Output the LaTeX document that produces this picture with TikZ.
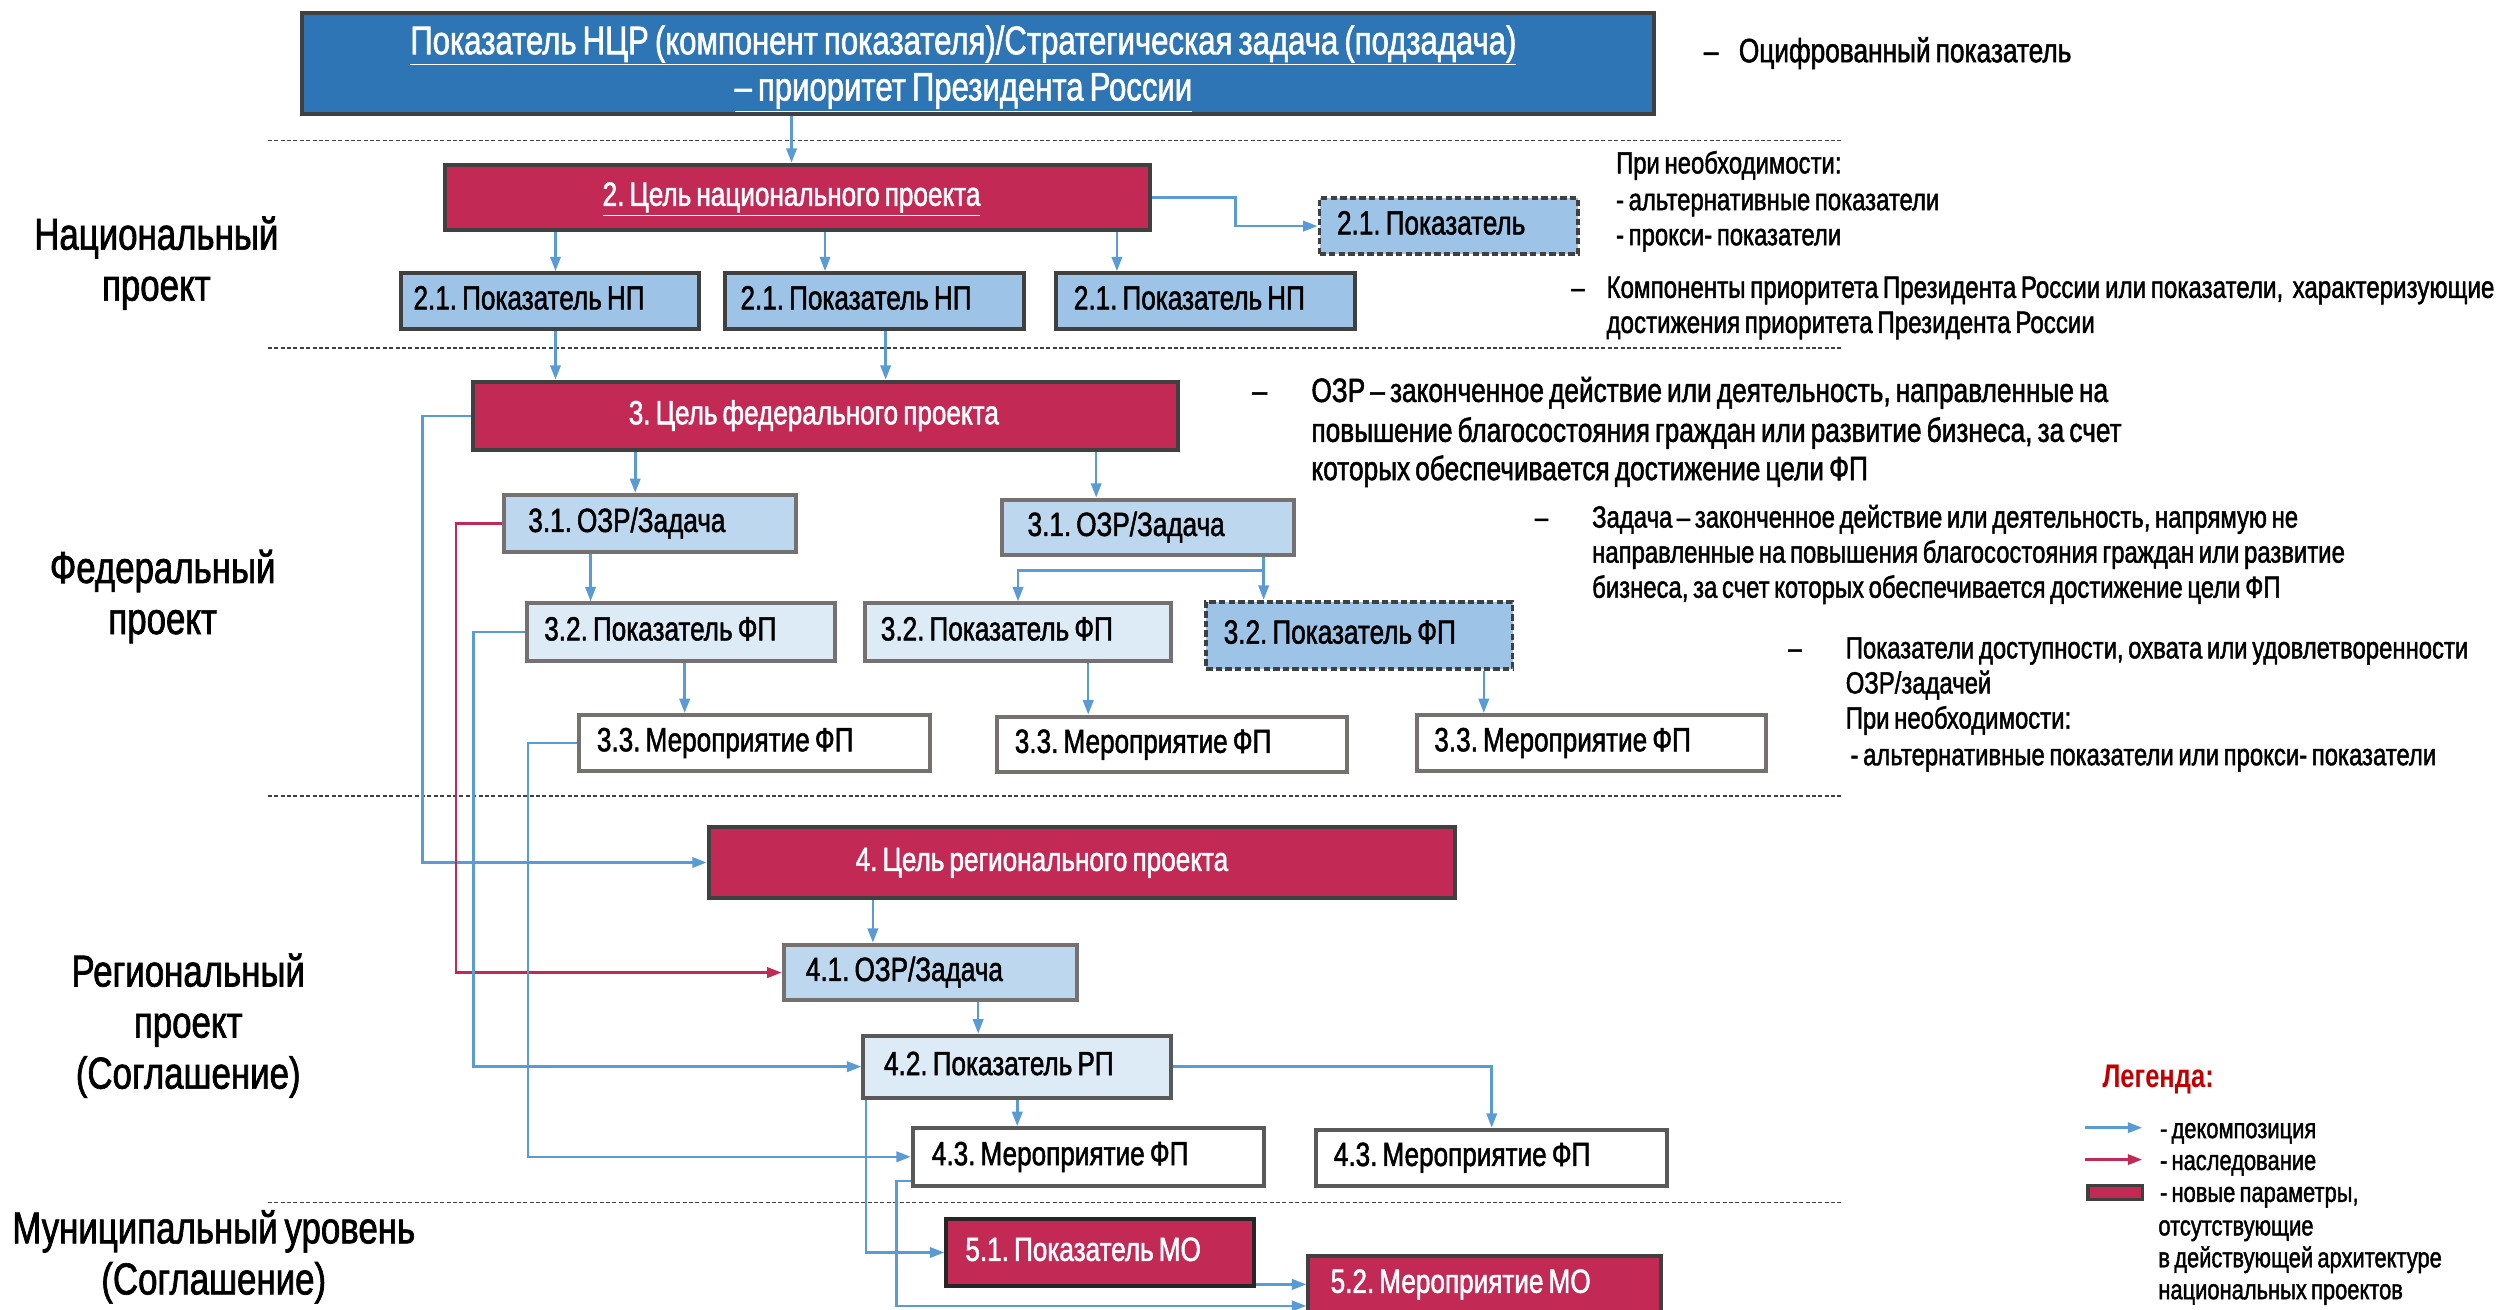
\documentclass[tikz,border=0pt]{standalone}
\usepackage{fontspec}
\setmainfont{Liberation Sans}[FakeStretch=0.78, FakeBold=1.5, WordSpace=0.7]
\newfontfamily\titlefont{Liberation Sans Bold}[FakeStretch=0.78, WordSpace=0.7]
\usetikzlibrary{arrows.meta,calc}
\definecolor{topblue}{HTML}{2E75B6}
\definecolor{crim}{HTML}{C32955}
\definecolor{lbA}{HTML}{9DC3E6}
\definecolor{lbB}{HTML}{BDD7EE}
\definecolor{lbC}{HTML}{DDEBF7}
\definecolor{arrblue}{HTML}{5B9BD5}
\definecolor{darkline}{HTML}{404040}
\definecolor{vdkline}{HTML}{262626}
\definecolor{grayline}{HTML}{767171}
\definecolor{midline}{HTML}{595959}
\definecolor{legred}{HTML}{C00000}
\newcommand\mkbox[8]{%
  \pgfmathsetmacro\mytw{#5-2*#7}%
  \node[#1, anchor=north west, minimum height=#6pt, inner xsep=#7pt, text width=\mytw pt] (#2) at (#3,#4) {#8};}
\newcommand\fsz[1]{\fontsize{#1}{#1}\selectfont\frenchspacing}
\begin{document}
\begin{tikzpicture}[x=1pt,y=-1pt,
  box/.style={rectangle, inner ysep=0pt, line width=2.5pt, font=\fsz{21}, text height=15pt, text depth=4.5pt, align=flush left},
  ctr/.style={align=flush center},
  dk/.style={draw=darkline},
  vdk/.style={draw=vdkline},
  gr/.style={draw=grayline},
  md/.style={draw=midline},
  dsh/.style={draw=darkline, dash pattern=on 4pt off 2pt},
  crbox/.style={fill=crim, text=white},
  lbAf/.style={fill=lbA},
  lbBf/.style={fill=lbB},
  lbCf/.style={fill=lbC},
  whf/.style={fill=white},
  dec/.style={draw=arrblue, line width=1.6pt, -{Triangle[length=9pt,width=6.5pt]}},
  inh/.style={draw=crim, line width=1.6pt, -{Triangle[length=9pt,width=6.5pt]}},
  sepline/.style={draw=darkline, line width=1pt, dash pattern=on 2.5pt off 1.5pt},
  ttl/.style={inner sep=0pt, text=white, font=\fsz{25}, text height=17.5pt, text depth=5.5pt},
  ann/.style={anchor=west, inner sep=0pt, font=\fsz{19.2}, text height=13.5pt, text depth=4pt},
  annL/.style={ann, font=\fsz{21.1}, text height=14.5pt, text depth=4.5pt},
  leg/.style={anchor=west, inner sep=0pt, font=\fsz{17.6}, text height=12.5pt, text depth=3.5pt},
  lab/.style={align=center, inner sep=0pt, font=\fontsize{28}{32}\selectfont}
]
\useasboundingbox (0,0) rectangle (1568,821);
\fill[white] (0,0) rectangle (1568,821);

% separators
\draw[sepline] (168,88) -- (1155,88);
\draw[sepline] (168,218) -- (1155,218);
\draw[sepline] (168,499) -- (1155,499);
\draw[sepline] (168,754) -- (1155,754);

% boxes
\mkbox{box,dk,fill=topblue}{top}{188}{7}{848}{63}{0}{}
\node[ttl] (tt1) at (604,28) {\underline{Показатель НЦР (компонент показателя)/Стратегическая задача (подзадача)}};
\node[ttl] (tt2) at (604,57) {\underline{– приоритет Президента России}};

\mkbox{box,crbox,dk,ctr}{cnp}{278}{102}{442}{41}{0}{\hspace*{-8pt}\underline{2. Цель национального проекта}}
\mkbox{box,lbAf,dsh}{pk}{826}{123}{162}{35}{11}{2.1. Показатель}
\mkbox{box,lbAf,dk}{np1}{250}{170}{187}{35}{8}{2.1. Показатель НП}
\mkbox{box,lbAf,dk}{np2}{453}{170}{188}{35}{10}{2.1. Показатель НП}
\mkbox{box,lbAf,dk}{np3}{661}{170}{187}{35}{11}{2.1. Показатель НП}
\mkbox{box,crbox,dk,ctr}{cfp}{295}{238}{442}{43}{0}{\hspace*{-14pt}3. Цель федерального проекта}
\mkbox{box,lbBf,gr}{z1}{315}{309}{183}{36}{15}{3.1. ОЗР/Задача}
\mkbox{box,lbBf,gr}{z2}{627}{312}{183}{35}{16}{3.1. ОЗР/Задача}
\mkbox{box,lbCf,gr}{p1}{329}{377}{193}{36}{11}{3.2. Показатель ФП}
\mkbox{box,lbCf,gr}{p2}{541}{377}{192}{36}{10}{3.2. Показатель ФП}
\mkbox{box,lbAf,dsh}{p3}{755}{376}{192}{42}{11}{3.2. Показатель ФП}
\mkbox{box,whf,gr}{d1}{362}{447}{220}{35}{11}{3.3. Мероприятие ФП}
\mkbox{box,whf,gr}{d2}{624}{448}{219}{35}{11}{3.3. Мероприятие ФП}
\mkbox{box,whf,gr}{d3}{887}{447}{219}{35}{11}{3.3. Мероприятие ФП}
\mkbox{box,crbox,dk,ctr}{crp}{443}{517}{468}{45}{0}{\hspace*{-50pt}4. Цель регионального проекта}
\mkbox{box,lbBf,gr}{zr}{490}{591}{184}{35}{14}{4.1. ОЗР/Задача}
\mkbox{box,lbCf,md}{rp}{540}{648}{193}{39}{13}{4.2. Показатель РП}
\mkbox{box,whf,md}{m1}{571}{706}{220}{36}{12}{4.3. Мероприятие ФП}
\mkbox{box,whf,md}{m2}{824}{707}{220}{35}{11}{4.3. Мероприятие ФП}
\mkbox{box,crbox,vdk}{mo1}{592}{763}{193}{42}{12}{5.1. Показатель МО}
\mkbox{box,crbox,dk}{mo2}{819}{786}{221}{36}{14}{5.2. Мероприятие МО}

% connectors
\coordinate (a1) at ([xshift=-4pt]cnp.north);
\draw[dec] (top.south -| a1) -- (a1);
\draw[dec] (cnp.east) -- ++(52,0) |- (pk.west);
\coordinate (a2) at ([xshift=3.5pt]np1.north);
\draw[dec] (cnp.south -| a2) -- (a2);
\coordinate (a3) at ([xshift=-31pt]np2.north);
\draw[dec] (cnp.south -| a3) -- (a3);
\coordinate (a4) at ([xshift=-55.5pt]np3.north);
\draw[dec] (cnp.south -| a4) -- (a4);
\coordinate (b1) at ([xshift=3.5pt]np1.south);
\draw[dec] (b1) -- (b1 |- cfp.north);
\coordinate (b2) at ([xshift=7pt]np2.south);
\draw[dec] (b2) -- (b2 |- cfp.north);
\draw[dec] (cfp.west) -- ++(-30,0) |- (crp.west);
\coordinate (c1) at ([xshift=-9.5pt]z1.north);
\draw[dec] (cfp.south -| c1) -- (c1);
\coordinate (c2) at ([xshift=-32.5pt]z2.north);
\draw[dec] (cfp.south -| c2) -- (c2);
\draw[inh] (z1.west) -- ++(-29,0) |- (zr.west);
\coordinate (c3) at ([xshift=-56.5pt]p1.north);
\draw[dec] (z1.south -| c3) -- (c3);
\coordinate (zs) at ([xshift=72.5pt]z2.south);
\draw[dec] (zs) -- (zs |- p3.north);
\draw[dec] (zs) -- ++(0,8) -| (p2.north);
\coordinate (e1) at ([xshift=2.5pt]p1.south);
\draw[dec] (e1) -- (e1 |- d1.north);
\coordinate (e2) at ([xshift=44pt]p2.south);
\draw[dec] (e2) -- (e2 |- d2.north);
\coordinate (e3) at ([xshift=78pt]p3.south);
\draw[dec] (e3) -- (e3 |- d3.north);
\draw[dec] (p1.west) -- ++(-32,0) |- (rp.west);
\draw[dec] (d1.west) -- ++(-31,0) |- (m1.west);
\coordinate (f1) at ([xshift=-36pt]zr.north);
\draw[dec] (crp.south -| f1) -- (f1);
\coordinate (f2) at ([xshift=30pt]zr.south);
\draw[dec] (f2) -- (f2 |- rp.north);
\draw[dec] (rp.south) -- (rp.south |- m1.north);
\draw[dec] (rp.east) -| (m2.north);
\draw[dec] ([xshift=3pt]rp.south west) |- (mo1.west);
\draw[dec] ([yshift=4pt]m1.south west) -- ++(-9,0) |- ([yshift=-13.5pt]mo2.west);
\draw[dec] (mo1.east |- mo2.west) -- (mo2.west);

% annotations
\node[annL] (n1d) at (1068,34) {–};
\node[annL] (n1) at (1090,34) {Оцифрованный показатель};
\node[ann] (n2) at (1013,104) {При необходимости:};
\node[ann] (n3) at (1013,127) {- альтернативные показатели};
\node[ann] (n4) at (1013,149) {- прокси- показатели};
\node[ann] (n5d) at (985,182) {–};
\node[ann, font=\fsz{19.4}] (n5) at (1007,182) {Компоненты приоритета Президента России или показатели,\ \ характеризующие};
\node[ann, font=\fsz{19.4}] (n6) at (1007,204) {достижения приоритета Президента России};
\node[annL] (n7d) at (785,247) {–};
\node[annL] (n7) at (822,247) {ОЗР – законченное действие или деятельность, направленные на};
\node[annL] (n8) at (822,272) {повышение благосостояния граждан или развитие бизнеса, за счет};
\node[annL] (n9) at (822,296) {которых обеспечивается достижение цели ФП};
\node[ann] (n10d) at (962,326) {–};
\node[ann] (n10) at (998,326) {Задача – законченное действие или деятельность, напрямую не};
\node[ann] (n11) at (998,348) {направленные на повышения благосостояния граждан или развитие};
\node[ann] (n12) at (998,370) {бизнеса, за счет которых обеспечивается достижение цели ФП};
\node[ann] (n13d) at (1121,408) {–};
\node[ann] (n13) at (1157,408) {Показатели доступности, охвата или удовлетворенности};
\node[ann] (n14) at (1157,430) {ОЗР/задачей};
\node[ann] (n15) at (1157,452) {При необходимости:};
\node[ann] (n16) at (1160,475) {- альтернативные показатели или прокси- показатели};

% level labels
\node[lab] (L1) at (98,165) {Национальный\\проект};
\node[lab] (L2) at (102,374) {Федеральный\\проект};
\node[lab] (L3) at (118,643) {Региональный\\проект\\(Соглашение)};
\node[lab] (L4) at (134,788) {Муниципальный уровень\\(Соглашение)};

% legend
\node[ann, text=legred, font=\fontsize{20.5}{23}\titlefont] (lgt) at (1318,677) {Легенда:};
\coordinate (la1) at (1307,707); \coordinate (la2) at (1343,707);
\draw[dec] (la1) -- (la2);
\coordinate (lb1) at (1307,727); \coordinate (lb2) at (1343,727);
\draw[inh] (lb1) -- (lb2);
\node[draw=darkline, line width=2pt, fill=crim, minimum width=34pt, minimum height=9pt, inner sep=0pt, anchor=north west] (lgb) at (1308,742) {};
\node[leg] (lg1) at (1354,709) {- декомпозиция};
\node[leg] (lg2) at (1354,729) {- наследование};
\node[leg] (lg3) at (1354,749) {- новые параметры,};
\node[leg] (lg4) at (1353,770) {отсутствующие};
\node[leg] (lg5) at (1353,790) {в действующей архитектуре};
\node[leg] (lg6) at (1353,810) {национальных проектов};
\end{tikzpicture}
\end{document}
